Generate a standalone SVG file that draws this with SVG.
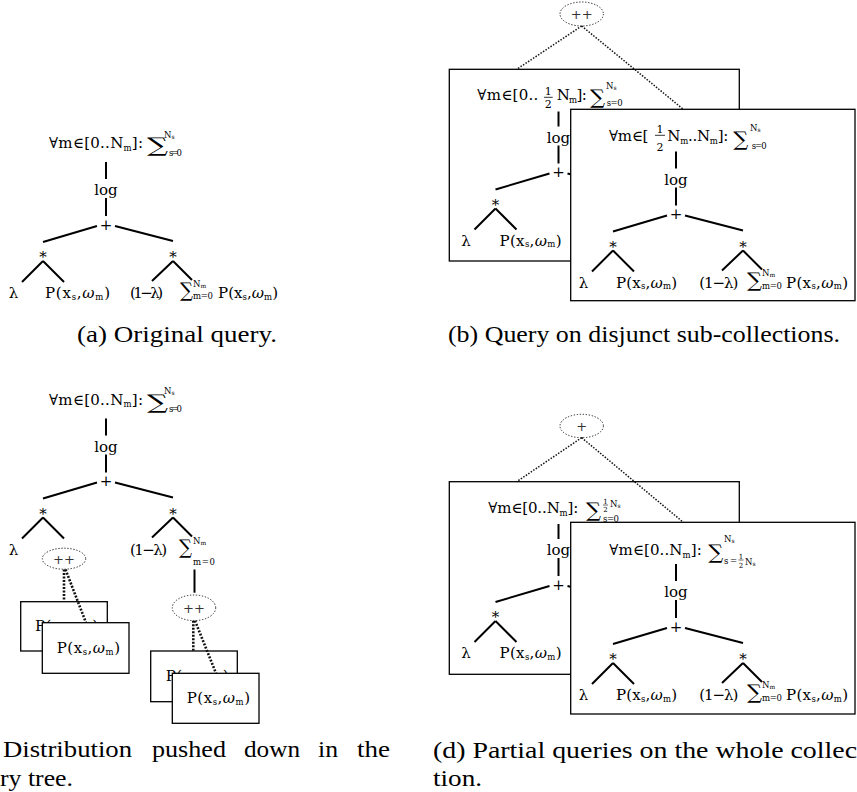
<svg xmlns="http://www.w3.org/2000/svg" width="857" height="792" viewBox="0 0 857 792">
<style>
.t{font-family:"DejaVu Serif",serif;font-size:15px;fill:#000}
.s{font-family:"DejaVu Serif",serif;font-size:8.5px;fill:#000}
.xs{font-size:6px}
.fr{font-family:"DejaVu Serif",serif;font-size:11px;fill:#000}
.fr2{font-family:"DejaVu Serif",serif;font-size:7px;fill:#000}
.big{font-family:"DejaVu Serif",serif;font-size:20px;fill:#000}
.w{font-style:italic}
.e{stroke:#000;stroke-width:2;fill:none}
.bar{stroke:#000;stroke-width:0.8}
.box{fill:#fff;stroke:#000;stroke-width:1.3}
.ell{fill:none;stroke:#222;stroke-width:1;stroke-dasharray:1.3 1.7}
.dl{fill:none;stroke:#111;stroke-width:1.5;stroke-dasharray:1.5 1.5}
.dt{fill:none;stroke:#111;stroke-width:2.6;stroke-dasharray:2 1.5}
.op{font-family:"DejaVu Serif",serif;font-size:13px;fill:#333}
.cap{font-family:"Liberation Serif",serif;font-size:24px;fill:#000}
</style>

<!-- ===== Panel (a) ===== -->
<g id="panel-a">
  <g id="a-edges">
    <path class="e" d="M106,162V179M106,198V216M97,226L43,242M115,226L173,241M43,261L22,282M43,261L64,282M173,261L152,281M173,261L192,280"/>
  </g>
  <g id="a-root">
    <text class="t" x="49" y="148" textLength="94" lengthAdjust="spacing">∀m∈[0..N<tspan class="s" dy="2.5">m</tspan><tspan dy="-2.5">]:</tspan></text>
    <text class="big" x="147" y="152" textLength="21" lengthAdjust="spacingAndGlyphs">∑</text>
    <text class="s" x="164" y="137.5">N<tspan class="xs" dy="1">s</tspan></text>
    <text class="s" x="169" y="155.5" textLength="13" lengthAdjust="spacing">s=0</text>
  </g>
  <g id="a-log"><text class="t" x="106" y="195" text-anchor="middle">log</text></g>
  <g id="a-plus"><text class="t" x="106" y="229.5" text-anchor="middle">+</text></g>
  <g id="a-mul1"><text class="t" x="43" y="262" text-anchor="middle">*</text></g>
  <g id="a-mul2"><text class="t" x="173" y="262" text-anchor="middle">*</text></g>
  <g id="a-lambda"><text class="t" x="13.5" y="298" text-anchor="middle">λ</text></g>
  <g id="a-p1"><text class="t" x="45" y="298" textLength="65" lengthAdjust="spacing">P(x<tspan class="s" dy="1.5">s</tspan><tspan dy="-1.5">,</tspan><tspan class="w">ω</tspan><tspan class="s" dy="1.5">m</tspan><tspan dy="-1.5">)</tspan></text></g>
  <g id="a-onem"><text class="t" x="130" y="298" textLength="33" lengthAdjust="spacing">(1−λ)</text></g>
  <g id="a-sum">
    <text class="big" x="180" y="297" textLength="13" lengthAdjust="spacingAndGlyphs">∑</text>
    <text class="s" x="193" y="286.5">N<tspan class="xs" dy="1">m</tspan></text>
    <text class="s" x="193" y="299" textLength="20" lengthAdjust="spacing">m=0</text>
  </g>
  <g id="a-p2"><text class="t" x="218" y="298" textLength="60" lengthAdjust="spacing">P(x<tspan class="s" dy="1.5">s</tspan><tspan dy="-1.5">,</tspan><tspan class="w">ω</tspan><tspan class="s" dy="1.5">m</tspan><tspan dy="-1.5">)</tspan></text></g>
  <g id="a-caption"><text class="cap" x="77" y="342" textLength="200" lengthAdjust="spacingAndGlyphs">(a) Original query.</text></g>
</g>

<!-- ===== Panel (b) ===== -->
<g id="panel-b">
  <g id="b-back-box"><rect class="box" x="449.3" y="69.3" width="290" height="191.7"/></g>
  <g id="b-back-root">
    <text class="t" x="477.3" y="100" textLength="61" lengthAdjust="spacing">∀m∈[0..</text>
    <text class="fr" x="548.3" y="95" text-anchor="middle">1</text>
    <line class="bar" x1="544" y1="97.3" x2="552.7" y2="97.3"/>
    <text class="fr" x="548.3" y="108" text-anchor="middle">2</text>
    <text class="t" x="556.7" y="100" textLength="30" lengthAdjust="spacing">N<tspan class="s" dy="2.5">m</tspan><tspan dy="-2.5">]:</tspan></text>
    <text class="big" x="590" y="104" textLength="15" lengthAdjust="spacingAndGlyphs">∑</text>
    <text class="s" x="606" y="89">N<tspan class="xs" dy="1">s</tspan></text>
    <text class="s" x="606.7" y="105.5" textLength="16" lengthAdjust="spacing">s=0</text>
  </g>
  <g transform="translate(452.5,-52.5)">
    <g id="b-back-edges"><path class="e" d="M106,164V179M106,198V216M97,226L43,242M115,226L173,241M43,261L22,282M43,261L64,282"/></g>
    <g id="b-back-log"><text class="t" x="106" y="195" text-anchor="middle">log</text></g>
    <g id="b-back-plus"><text class="t" x="106" y="229.5" text-anchor="middle">+</text></g>
    <g id="b-back-mul"><text class="t" x="43" y="262" text-anchor="middle">*</text></g>
    <g id="b-back-lambda"><text class="t" x="13.5" y="298" text-anchor="middle">λ</text></g>
    <g id="b-back-p"><text class="t" x="47" y="298" textLength="62" lengthAdjust="spacing">P(x<tspan class="s" dy="1.5">s</tspan><tspan dy="-1.5">,</tspan><tspan class="w">ω</tspan><tspan class="s" dy="1.5">m</tspan><tspan dy="-1.5">)</tspan></text></g>
  </g>
  <g id="b-top">
    <ellipse class="ell" cx="581.7" cy="14" rx="21.7" ry="12"/>
    <text class="op" x="581.7" y="19" text-anchor="middle">++</text>
  </g>
  <g id="b-dotted"><path class="dl" d="M581.7,26L516.7,69.3M581.7,26L683.3,109.3"/></g>
  <g id="b-front-box"><rect class="box" x="570.7" y="109.3" width="284.3" height="191.4"/></g>
  <g id="b-front-root">
    <text class="t" x="609" y="141" textLength="39.3" lengthAdjust="spacing">∀m∈[</text>
    <text class="fr" x="660" y="132.5" text-anchor="middle">1</text>
    <line class="bar" x1="655" y1="135.3" x2="665" y2="135.3"/>
    <text class="fr" x="660" y="151" text-anchor="middle">2</text>
    <text class="t" x="667.3" y="141" textLength="61" lengthAdjust="spacing">N<tspan class="s" dy="2.5">m</tspan><tspan dy="-2.5">..N</tspan><tspan class="s" dy="2.5">m</tspan><tspan dy="-2.5">]:</tspan></text>
    <text class="big" x="733.3" y="145.5" textLength="15" lengthAdjust="spacingAndGlyphs">∑</text>
    <text class="s" x="750" y="130.5">N<tspan class="xs" dy="1">s</tspan></text>
    <text class="s" x="751.7" y="148.5" textLength="15" lengthAdjust="spacing">s=0</text>
  </g>
  <g transform="translate(570,-10.5)">
    <g id="b-front-edges"><path class="e" d="M106,162V179M106,198V216M97,226L43,242M115,226L173,241M43,261L22,282M43,261L64,282M173,261L152,281M173,261L192,280"/></g>
    <g id="b-front-log"><text class="t" x="106" y="195" text-anchor="middle">log</text></g>
    <g id="b-front-plus"><text class="t" x="106" y="229.5" text-anchor="middle">+</text></g>
    <g id="b-front-mul1"><text class="t" x="43" y="262" text-anchor="middle">*</text></g>
    <g id="b-front-mul2"><text class="t" x="173" y="262" text-anchor="middle">*</text></g>
    <g id="b-front-lambda"><text class="t" x="13.5" y="298" text-anchor="middle">λ</text></g>
    <g id="b-front-p1"><text class="t" x="46" y="298" textLength="61" lengthAdjust="spacing">P(x<tspan class="s" dy="1.5">s</tspan><tspan dy="-1.5">,</tspan><tspan class="w">ω</tspan><tspan class="s" dy="1.5">m</tspan><tspan dy="-1.5">)</tspan></text></g>
    <g id="b-front-onem"><text class="t" x="129.3" y="298" textLength="39" lengthAdjust="spacing">(1−λ)</text></g>
    <g id="b-front-sum">
      <text class="big" x="177" y="297" textLength="15" lengthAdjust="spacingAndGlyphs">∑</text>
      <text class="s" x="192" y="286">N<tspan class="xs" dy="1">m</tspan></text>
      <text class="s" x="192" y="299" textLength="20" lengthAdjust="spacing">m=0</text>
    </g>
    <g id="b-front-p2"><text class="t" x="216" y="298" textLength="62" lengthAdjust="spacing">P(x<tspan class="s" dy="1.5">s</tspan><tspan dy="-1.5">,</tspan><tspan class="w">ω</tspan><tspan class="s" dy="1.5">m</tspan><tspan dy="-1.5">)</tspan></text></g>
  </g>
  <g id="b-caption"><text class="cap" x="448" y="342" textLength="392" lengthAdjust="spacingAndGlyphs">(b) Query on disjunct sub-collections.</text></g>
</g>

<!-- ===== Panel (c) ===== -->
<g id="panel-c">
  <g transform="translate(0,256.5)">
    <g id="c-edges"><path class="e" d="M106,162V179M106,198V216M97,226L43,242M115,226L173,241M43,261L22,282M43,261L64,282M173,261L152,281M173,261L192,280"/></g>
    <g id="c-root">
      <text class="t" x="49" y="148" textLength="94" lengthAdjust="spacing">∀m∈[0..N<tspan class="s" dy="2.5">m</tspan><tspan dy="-2.5">]:</tspan></text>
      <text class="big" x="147" y="152" textLength="21" lengthAdjust="spacingAndGlyphs">∑</text>
      <text class="s" x="164" y="137.5">N<tspan class="xs" dy="1">s</tspan></text>
      <text class="s" x="169" y="155.5" textLength="13" lengthAdjust="spacing">s=0</text>
    </g>
    <g id="c-log"><text class="t" x="106" y="195" text-anchor="middle">log</text></g>
    <g id="c-plus"><text class="t" x="106" y="229.5" text-anchor="middle">+</text></g>
    <g id="c-mul1"><text class="t" x="43" y="262" text-anchor="middle">*</text></g>
    <g id="c-mul2"><text class="t" x="173" y="262" text-anchor="middle">*</text></g>
    <g id="c-lambda"><text class="t" x="13.5" y="298" text-anchor="middle">λ</text></g>
    <g id="c-onem"><text class="t" x="130" y="298" textLength="37" lengthAdjust="spacing">(1−λ)</text></g>
    <g id="c-sum">
      <text class="big" x="179" y="297" textLength="13" lengthAdjust="spacingAndGlyphs">∑</text>
      <text class="s" x="193" y="287">N<tspan class="xs" dy="1">m</tspan></text>
      <text class="s" x="193" y="308" textLength="22" lengthAdjust="spacing">m=0</text>
    </g>
  </g>
  <g id="c-edge-sum"><path class="e" d="M194.5,569.5V592.7"/></g>
  <g id="c-dist1">
    <ellipse class="ell" cx="64" cy="558.7" rx="21.7" ry="10.5"/>
    <text class="op" x="64" y="563.5" text-anchor="middle">++</text>
  </g>
  <g id="c-dist2">
    <ellipse class="ell" cx="194" cy="607.8" rx="21.7" ry="12.8"/>
    <text class="op" x="194" y="612.5" text-anchor="middle">++</text>
  </g>
  <g id="c-box1-back"><rect class="box" x="20.7" y="601.7" width="86.6" height="49.3"/>
    <text class="t" x="35" y="631" textLength="63" lengthAdjust="spacing">P(x<tspan class="s" dy="1.5">s</tspan><tspan dy="-1.5">,</tspan><tspan class="w">ω</tspan><tspan class="s" dy="1.5">m</tspan><tspan dy="-1.5">)</tspan></text></g>
  <g id="c-box2-back"><rect class="box" x="150.7" y="651" width="86.6" height="50.7"/>
    <text class="t" x="165.7" y="680.5" textLength="63" lengthAdjust="spacing">P(x<tspan class="s" dy="1.5">s</tspan><tspan dy="-1.5">,</tspan><tspan class="w">ω</tspan><tspan class="s" dy="1.5">m</tspan><tspan dy="-1.5">)</tspan></text></g>
  <g id="c-dotted">
    <path class="dt" d="M64,569.5V601.7M193.3,620.7V651"/>
    <path class="dt" d="M65.5,569.5L86,622.7M195,620.7L216,673.3"/>
  </g>
  <g id="c-box1-front"><rect class="box" x="42.3" y="622.7" width="86.7" height="50.6"/>
    <text class="t" x="56.7" y="653.3" textLength="63.3" lengthAdjust="spacing">P(x<tspan class="s" dy="1.5">s</tspan><tspan dy="-1.5">,</tspan><tspan class="w">ω</tspan><tspan class="s" dy="1.5">m</tspan><tspan dy="-1.5">)</tspan></text></g>
  <g id="c-box2-front"><rect class="box" x="172.3" y="673.3" width="86.7" height="50"/>
    <text class="t" x="186.7" y="703.3" textLength="63.3" lengthAdjust="spacing">P(x<tspan class="s" dy="1.5">s</tspan><tspan dy="-1.5">,</tspan><tspan class="w">ω</tspan><tspan class="s" dy="1.5">m</tspan><tspan dy="-1.5">)</tspan></text></g>
  <g id="c-caption">
    <text class="cap" x="3" y="757" textLength="129" lengthAdjust="spacingAndGlyphs">Distribution</text>
    <text class="cap" x="152" y="757" textLength="74" lengthAdjust="spacingAndGlyphs">pushed</text>
    <text class="cap" x="244" y="757" textLength="56" lengthAdjust="spacingAndGlyphs">down</text>
    <text class="cap" x="318" y="757" textLength="20" lengthAdjust="spacingAndGlyphs">in</text>
    <text class="cap" x="357" y="757" textLength="33" lengthAdjust="spacingAndGlyphs">the</text>
    <text class="cap" x="0" y="786" textLength="73" lengthAdjust="spacingAndGlyphs">ry tree.</text>
  </g>
</g>

<!-- ===== Panel (d) ===== -->
<g id="panel-d">
  <g id="d-back-box"><rect class="box" x="449.3" y="481.7" width="290" height="192.6"/></g>
  <g id="d-back-root">
    <text class="t" x="488.3" y="513" textLength="90" lengthAdjust="spacing">∀m∈[0..N<tspan class="s" dy="2.5">m</tspan><tspan dy="-2.5">]:</tspan></text>
    <text class="big" x="586" y="517" textLength="15" lengthAdjust="spacingAndGlyphs">∑</text>
    <text class="fr2" x="605.5" y="503.5" text-anchor="middle">1</text>
    <line class="bar" x1="603" y1="505" x2="608" y2="505" style="stroke-width:0.6"/>
    <text class="fr2" x="605.5" y="511.5" text-anchor="middle">2</text>
    <text class="s" x="610" y="507">N<tspan class="xs" dy="1">s</tspan></text>
    <text class="s" x="603" y="521.5" textLength="16" lengthAdjust="spacing">s=0</text>
  </g>
  <g transform="translate(452.5,360)">
    <g id="d-back-edges"><path class="e" d="M106,164V179M106,198V216M97,226L43,242M115,226L173,241M43,261L22,282M43,261L64,282"/></g>
    <g id="d-back-log"><text class="t" x="106" y="195" text-anchor="middle">log</text></g>
    <g id="d-back-plus"><text class="t" x="106" y="229.5" text-anchor="middle">+</text></g>
    <g id="d-back-mul"><text class="t" x="43" y="262" text-anchor="middle">*</text></g>
    <g id="d-back-lambda"><text class="t" x="13.5" y="298" text-anchor="middle">λ</text></g>
    <g id="d-back-p"><text class="t" x="47" y="298" textLength="62" lengthAdjust="spacing">P(x<tspan class="s" dy="1.5">s</tspan><tspan dy="-1.5">,</tspan><tspan class="w">ω</tspan><tspan class="s" dy="1.5">m</tspan><tspan dy="-1.5">)</tspan></text></g>
  </g>
  <g id="d-top">
    <ellipse class="ell" cx="581.7" cy="426" rx="21.7" ry="11.7"/>
    <text class="op" x="581.7" y="431" text-anchor="middle">+</text>
  </g>
  <g id="d-dotted"><path class="dl" d="M581.7,437.7L516.7,481.7M581.7,437.7L683.3,522.3"/></g>
  <g id="d-front-box"><rect class="box" x="570.7" y="522.3" width="284.3" height="191.7"/></g>
  <g id="d-front-root">
    <text class="t" x="609.3" y="555" textLength="92.4" lengthAdjust="spacing">∀m∈[0..N<tspan class="s" dy="2.5">m</tspan><tspan dy="-2.5">]:</tspan></text>
    <text class="big" x="708.3" y="559" textLength="15" lengthAdjust="spacingAndGlyphs">∑</text>
    <text class="s" x="724" y="541.5">N<tspan class="xs" dy="1">s</tspan></text>
    <text class="s" x="724" y="564" textLength="13" lengthAdjust="spacing">s=</text>
    <text class="fr2" x="741" y="558.5" text-anchor="middle">1</text>
    <line class="bar" x1="738.5" y1="560" x2="743.5" y2="560" style="stroke-width:0.6"/>
    <text class="fr2" x="741" y="567.5" text-anchor="middle">2</text>
    <text class="s" x="745" y="565">N<tspan class="xs" dy="1">s</tspan></text>
  </g>
  <g transform="translate(570,402)">
    <g id="d-front-edges"><path class="e" d="M106,162V179M106,198V216M97,226L43,242M115,226L173,241M43,261L22,282M43,261L64,282M173,261L152,281M173,261L192,280"/></g>
    <g id="d-front-log"><text class="t" x="106" y="195" text-anchor="middle">log</text></g>
    <g id="d-front-plus"><text class="t" x="106" y="229.5" text-anchor="middle">+</text></g>
    <g id="d-front-mul1"><text class="t" x="43" y="262" text-anchor="middle">*</text></g>
    <g id="d-front-mul2"><text class="t" x="173" y="262" text-anchor="middle">*</text></g>
    <g id="d-front-lambda"><text class="t" x="13.5" y="298" text-anchor="middle">λ</text></g>
    <g id="d-front-p1"><text class="t" x="46" y="298" textLength="61" lengthAdjust="spacing">P(x<tspan class="s" dy="1.5">s</tspan><tspan dy="-1.5">,</tspan><tspan class="w">ω</tspan><tspan class="s" dy="1.5">m</tspan><tspan dy="-1.5">)</tspan></text></g>
    <g id="d-front-onem"><text class="t" x="129.3" y="298" textLength="39" lengthAdjust="spacing">(1−λ)</text></g>
    <g id="d-front-sum">
      <text class="big" x="177" y="297" textLength="15" lengthAdjust="spacingAndGlyphs">∑</text>
      <text class="s" x="192" y="286">N<tspan class="xs" dy="1">m</tspan></text>
      <text class="s" x="192" y="299" textLength="20" lengthAdjust="spacing">m=0</text>
    </g>
    <g id="d-front-p2"><text class="t" x="216" y="298" textLength="62" lengthAdjust="spacing">P(x<tspan class="s" dy="1.5">s</tspan><tspan dy="-1.5">,</tspan><tspan class="w">ω</tspan><tspan class="s" dy="1.5">m</tspan><tspan dy="-1.5">)</tspan></text></g>
  </g>
  <g id="d-caption">
    <text class="cap" x="433" y="758" textLength="424" lengthAdjust="spacingAndGlyphs">(d) Partial queries on the whole collec</text>
    <text class="cap" x="433" y="786" textLength="49" lengthAdjust="spacingAndGlyphs">tion.</text>
  </g>
</g>
</svg>
